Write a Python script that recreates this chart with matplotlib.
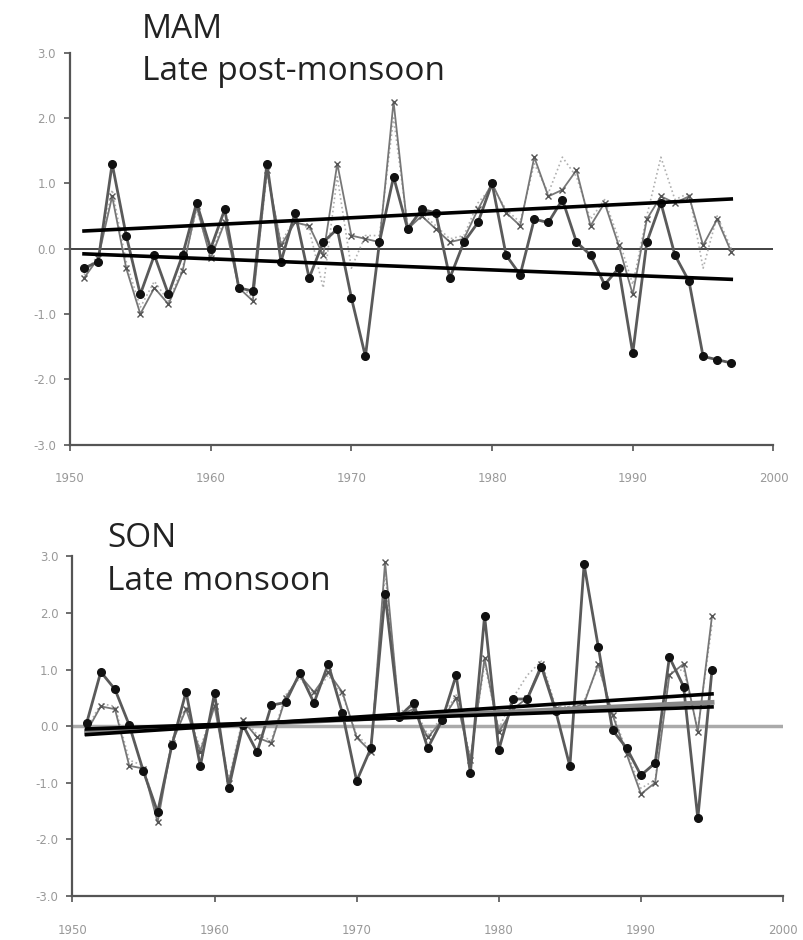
import numpy as np
import matplotlib
matplotlib.use("Agg")
import matplotlib.pyplot as plt

# ---- data ----
# MAM, late post-monsoon, 1951-1997
mam_years = list(range(1951, 1998))
mam_dots = [-0.30, -0.20, 1.30, 0.20, -0.70, -0.10, -0.70, -0.10, 0.70, 0.00,
            0.60, -0.60, -0.65, 1.30, -0.20, 0.55, -0.45, 0.10, 0.30, -0.75,
            -1.65, 0.10, 1.10, 0.30, 0.60, 0.55, -0.45, 0.10, 0.40, 1.00,
            -0.10, -0.40, 0.45, 0.40, 0.75, 0.10, -0.10, -0.55, -0.30, -1.60,
            0.10, 0.70, -0.10, -0.50, -1.65, -1.70, -1.75]
mam_cross = [-0.45, -0.15, 0.80, -0.30, -1.00, -0.60, -0.85, -0.35, 0.65, -0.15,
             0.40, -0.60, -0.80, 1.20, 0.05, 0.40, 0.35, -0.10, 1.30, 0.20,
             0.15, 0.10, 2.25, 0.30, 0.50, 0.30, 0.10, 0.15, 0.60, 1.00,
             0.55, 0.35, 1.40, 0.80, 0.90, 1.20, 0.35, 0.70, 0.05, -0.70,
             0.45, 0.80, 0.70, 0.80, 0.05, 0.45, -0.05]
mam_dotted = [-0.40, -0.10, 0.90, -0.20, -0.90, -0.50, -0.80, -0.30, 0.60, -0.10,
              0.45, -0.55, -0.75, 1.15, 0.10, 0.45, 0.30, -0.60, 1.10, -0.30,
              0.20, 0.20, 2.00, 0.35, 0.55, 0.35, 0.15, 0.20, 0.70, 0.95,
              0.60, 0.40, 1.30, 0.85, 1.40, 1.10, 0.45, 0.75, 0.15, -0.55,
              0.50, 1.40, 0.75, 0.85, -0.30, 0.50, 0.00]
mam_trend_up = [0.27, 0.76]     # values at first / last year
mam_trend_down = [-0.08, -0.47]

# SON, late monsoon, 1951-1995
son_years = list(range(1951, 1996))
son_dots = [0.05, 0.96, 0.65, 0.02, -0.80, -1.52, -0.34, 0.61, -0.71, 0.58,
            -1.10, 0.02, -0.46, 0.37, 0.42, 0.94, 0.41, 1.10, 0.23, -0.97,
            -0.39, 2.33, 0.17, 0.41, -0.39, 0.10, 0.90, -0.83, 1.95, -0.42,
            0.48, 0.48, 1.05, 0.27, -0.71, 2.86, 1.40, -0.07, -0.39, -0.87,
            -0.65, 1.22, 0.70, -1.63, 1.00]
son_cross = [-0.10, 0.35, 0.30, -0.70, -0.75, -1.70, -0.30, 0.30, -0.45, 0.35,
             -1.00, 0.10, -0.20, -0.30, 0.50, 0.90, 0.60, 0.95, 0.60, -0.20,
             -0.45, 2.90, 0.20, 0.30, -0.20, 0.10, 0.50, -0.60, 1.20, -0.10,
             0.30, 0.50, 1.10, 0.30, 0.30, 0.40, 1.10, 0.20, -0.50, -1.20,
             -1.00, 0.90, 1.10, -0.10, 1.95]
son_dotted = [-0.05, 0.40, 0.35, -0.60, -0.70, -1.60, -0.25, 0.35, -0.40, 0.40,
              -0.95, 0.15, -0.15, -0.25, 0.55, 0.85, 0.55, 0.90, 0.55, -0.15,
              -0.40, 2.70, 0.25, 0.35, -0.15, 0.15, 0.55, -0.55, 1.10, -0.05,
              0.50, 0.90, 1.15, 0.35, 0.35, 0.45, 1.05, 0.25, -0.45, -1.10,
              -0.95, 0.95, 1.00, -0.05, 1.80]
son_trend_a = [-0.15, 0.57]
son_trend_b = [-0.05, 0.34]
son_trend_grey = [-0.10, 0.42]

yticks = [-3.0, -2.0, -1.0, 0.0, 1.0, 2.0, 3.0]
xticks = [1950, 1960, 1970, 1980, 1990, 2000]

fig = plt.figure(figsize=(8.04, 9.4), dpi=100)
ax1 = fig.add_axes([0.087, 0.527, 0.875, 0.417])
ax2 = fig.add_axes([0.090, 0.047, 0.884, 0.361])


def style_axis(ax):
    ax.set_xlim(1950, 2000)
    ax.set_ylim(-3.0, 3.0)
    ax.set_xticks(xticks)
    ax.set_yticks(yticks)
    ax.set_yticklabels(['%.1f' % v for v in yticks])
    for s in ['top', 'right']:
        ax.spines[s].set_visible(False)
    for s in ['left', 'bottom']:
        ax.spines[s].set_color('#555555')
        ax.spines[s].set_linewidth(1.6)
    ax.tick_params(direction='out', length=4, width=1.2, color='#555555',
                   labelsize=8.5, labelcolor='#999999', pad=6)
    ax.tick_params(axis='x', pad=16)


def draw_series(ax, years, dots, cross, dotted):
    ax.plot(years, dotted, color='#b0b0b0', lw=1.2, ls=':', zorder=2)
    ax.plot(years, cross, color='#777777', lw=1.3, marker='x', ms=4.5,
            mew=1.0, mec='#555555', zorder=3)
    ax.plot(years, dots, color='#5a5a5a', lw=2.0, marker='o', ms=5.5,
            mfc='#111111', mec='#111111', zorder=4)


# ---- top panel ----
style_axis(ax1)
ax1.axhline(0, color='#333333', lw=1.3, zorder=1)
draw_series(ax1, mam_years, mam_dots, mam_cross, mam_dotted)
ends1 = [mam_years[0], mam_years[-1]]
ax1.plot(ends1, mam_trend_up, color='black', lw=2.6, zorder=5)
ax1.plot(ends1, mam_trend_down, color='black', lw=2.6, zorder=5)
fig.text(0.176, 0.960, 'MAM', fontsize=24, family='Open Sans', color='#222222')
fig.text(0.176, 0.915, 'Late post-monsoon', fontsize=24, family='Open Sans',
         color='#222222')

# ---- bottom panel ----
style_axis(ax2)
ax2.axhline(0, color='#aaaaaa', lw=2.5, zorder=1)
draw_series(ax2, son_years, son_dots, son_cross, son_dotted)
ends2 = [son_years[0], son_years[-1]]
ax2.plot(ends2, son_trend_grey, color='#888888', lw=3.5, zorder=5)
ax2.plot(ends2, son_trend_a, color='black', lw=2.6, zorder=6)
ax2.plot(ends2, son_trend_b, color='black', lw=2.6, zorder=6)
fig.text(0.133, 0.418, 'SON', fontsize=24, family='Open Sans', color='#222222')
fig.text(0.133, 0.372, 'Late monsoon', fontsize=24, family='Open Sans',
         color='#222222')

fig.savefig('out.png', dpi=100)
